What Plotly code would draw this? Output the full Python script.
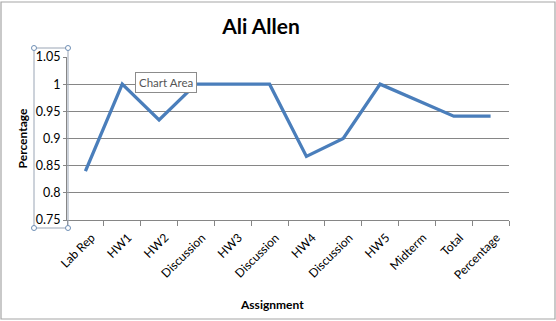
import plotly.graph_objects as go

categories = ["Lab Rep", "HW1", "HW2", "Discussion", "HW3", "Discussion",
              "HW4", "Discussion", "HW5", "Midterm", "Total", "Percentage"]
values = [0.84, 1.0, 0.934, 1.0, 1.0, 1.0, 0.867, 0.90, 1.0, 0.971, 0.941, 0.941]
y_ticks = [0.75, 0.8, 0.85, 0.9, 0.95, 1, 1.05]

W, H = 556, 321
L, R, T, B = 67, 47, 57, 101
PW, PH = W - L - R, H - T - B


def px(x):
    return (x - L) / PW


def py(y):
    return (H - B - y) / PH


xs = list(range(len(categories)))
font = "Lato, Carlito, 'Liberation Sans', sans-serif"

fig = go.Figure()
fig.add_trace(go.Scatter(x=xs, y=values, mode="lines",
                         line=dict(color="#4A7EBB", width=3.3),
                         hoverinfo="skip", showlegend=False))

shapes = []
# chart border
shapes.append(dict(type="rect", xref="paper", yref="paper",
                   x0=px(1), x1=px(555), y0=py(319), y1=py(2),
                   line=dict(color="#A6A6A6", width=1.2), layer="below"))
# selection box around y-axis labels
shapes.append(dict(type="rect", xref="paper", yref="paper",
                   x0=px(34), x1=px(68), y0=py(228), y1=py(48),
                   line=dict(color="#9AA5B5", width=1)))
for cx in (34, 68):
    for cy in (48, 228):
        shapes.append(dict(type="circle", xref="paper", yref="paper",
                           x0=px(cx - 2.5), x1=px(cx + 2.5),
                           y0=py(cy + 2.5), y1=py(cy - 2.5),
                           line=dict(color="#6F8FB5", width=1),
                           fillcolor="white"))

fig.update_layout(
    width=W, height=H,
    margin=dict(l=L, r=R, t=T, b=B),
    paper_bgcolor="white", plot_bgcolor="white",
    font=dict(family=font, color="#000000", size=12),
    title=dict(text="<b>Ali Allen</b>", x=261 / W, xanchor="center",
               y=1 - 27 / H, yanchor="middle",
               font=dict(size=21, family=font)),
    xaxis=dict(range=[-0.5, len(categories) - 0.5],
               tickmode="array", tickvals=xs, ticktext=categories,
               tickangle=-45, ticks="", showgrid=False,
               showline=True, linecolor="#868686", linewidth=1,
               zeroline=False, tickfont=dict(size=12),
               ticklabelshift=6, ticklabelstandoff=5,
               minor=dict(tickvals=[i - 0.5 for i in range(len(categories) + 1)],
                          ticks="outside", ticklen=5, tickcolor="#868686",
                          showgrid=False)),
    yaxis=dict(range=[0.75, 1.05], tickmode="array", tickvals=y_ticks,
               ticktext=["0.75", "0.8", "0.85", "0.9", "0.95", "1", "1.05"],
               showgrid=True, gridcolor="#868686", gridwidth=1,
               showline=True, linecolor="#868686", linewidth=1,
               ticks="outside", ticklen=3, tickcolor="#868686",
               zeroline=False, tickfont=dict(size=12.5),
               title=dict(text="<b>Percentage</b>", font=dict(size=12), standoff=5)),
    shapes=shapes,
    annotations=[
        dict(text="Chart Area", xref="paper", yref="paper",
             x=px(166), y=py(82), xanchor="center", yanchor="middle",
             showarrow=False,
             font=dict(size=11.5, color="#555555", family=font),
             bgcolor="white", bordercolor="#8C8C8C", borderwidth=1,
             borderpad=3),
        dict(text="<b>Assignment</b>", xref="paper", yref="paper",
             x=px(272), y=py(304), xanchor="center", yanchor="middle",
             showarrow=False, font=dict(size=12, family=font)),
    ],
)

fig.write_html("out.html")
